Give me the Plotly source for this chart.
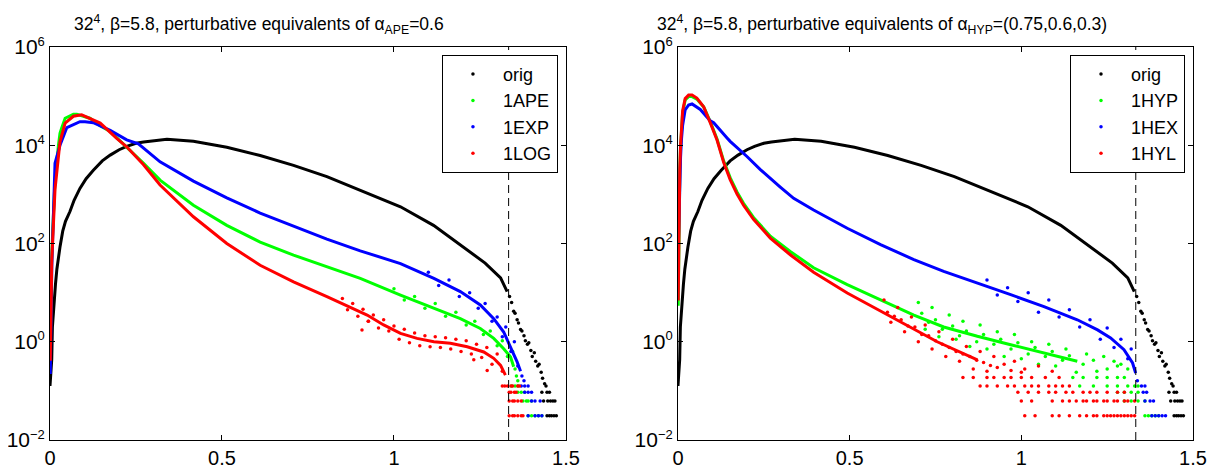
import plotly.graph_objects as go

# ---------------- data ----------------
CUTOFF = 4 / 3  # dashed vertical line position

# count levels of the lowest histogram rows (1,2,3,4,6 entries)
L1, L2, L3, L4, L6 = 0.03125, 0.0625, 0.09375, 0.125, 0.1875

# ---- original (same in both panels)
orig_x = [0.0, 0.003, 0.005, 0.007, 0.010, 0.0125, 0.016, 0.020, 0.024, 0.029, 0.037, 0.045,
          0.058, 0.070, 0.087, 0.105, 0.126, 0.152, 0.175, 0.201, 0.223, 0.25, 0.272, 0.34,
          0.417, 0.514, 0.611, 0.708, 0.805, 0.902, 1.019, 1.115, 1.213, 1.265, 1.31, 1.329]
orig_y = [0.126, 0.29, 0.43, 2.0, 4.4, 6.5, 15, 30, 50, 85, 178, 282,
          447, 760, 1320, 2090, 3100, 4800, 6300, 8100, 9500, 11000, 11700, 13200,
          12000, 9100, 6200, 3900, 2300, 1230, 560, 234, 74, 40, 20, 10.5]
orig_tail_x = [1.336, 1.342, 1.348, 1.352, 1.358, 1.362, 1.368, 1.372, 1.378, 1.382, 1.388,
               1.392, 1.398, 1.402, 1.408, 1.412, 1.418, 1.422, 1.428, 1.432, 1.438]
orig_tail_y = [8.3, 6.3, 4.2, 3.8, 2.8, 2.4, 1.78, 1.66, 1.32, 1.05, 0.89,
               0.95, 0.66, 0.50, 0.60, 0.40, 0.32, 0.35, 0.24, 0.18, 0.14]
orig_rows = {L4: [1.442], L3: [1.43, 1.445, 1.452],
             L2: [1.435, 1.447, 1.455, 1.462, 1.468],
             L1: [1.445, 1.452, 1.458, 1.465, 1.472]}

# ---- left panel: 1APE (green)
ape_x = [0.00075, 0.00225, 0.00375, 0.008, 0.0146, 0.024, 0.029, 0.034, 0.044, 0.068, 0.078,
         0.116, 0.1455, 0.175, 0.223, 0.272, 0.32, 0.417, 0.514, 0.611, 0.708, 0.805, 0.902,
         1.019, 1.116, 1.193, 1.251, 1.29, 1.319, 1.339, 1.348]
ape_y = [0.65, 7.4, 31, 186, 1950, 9300, 17400, 22400, 35500, 42700, 42700,
         35500, 25100, 19000, 9300, 4300, 1950, 600, 234, 107, 58, 34, 19.5,
         8.9, 4.8, 2.95, 1.86, 1.17, 0.72, 0.49, 0.31]
ape_tail_x = [1.0, 1.03, 1.06, 1.09, 1.12, 1.15, 1.18, 1.21, 1.235, 1.26, 1.28, 1.30, 1.315,
              1.33, 1.345, 1.352, 1.356, 1.36]
ape_tail_y = [12, 7.1, 8.3, 4.8, 6.0, 3.3, 4.0, 2.2, 2.6, 1.4, 1.66, 0.83, 1.05,
              0.5, 0.63, 0.28, 0.2, 0.16]
ape_rows = {L4: [1.342, 1.352, 1.36], L3: [1.36, 1.37, 1.38],
            L2: [1.375, 1.385, 1.39, 1.40], L1: [1.39, 1.40, 1.41, 1.42, 1.43]}

# ---- left panel: 1EXP (blue)
exp_x = [0.00075, 0.00225, 0.00375, 0.00525, 0.0146, 0.029, 0.049, 0.087, 0.102, 0.126, 0.175,
         0.223, 0.257, 0.32, 0.417, 0.514, 0.611, 0.708, 0.805, 0.902, 1.019, 1.116, 1.193,
         1.251, 1.29, 1.319, 1.339, 1.358, 1.368]
exp_y = [0.22, 3.3, 13.5, 35, 4300, 10000, 22900, 30200, 30200, 28800, 20000,
         12900, 10700, 4600, 1860, 850, 417, 224, 123, 71, 39, 19.5, 10.5,
         5.6, 2.95, 1.58, 0.79, 0.39, 0.25]
exp_tail_x = [1.10, 1.13, 1.16, 1.19, 1.22, 1.245, 1.265, 1.285, 1.30, 1.315, 1.325, 1.34,
              1.35, 1.36, 1.372, 1.378]
exp_tail_y = [26, 14, 18, 8.3, 10, 4.8, 6.0, 2.6, 3.2, 1.26, 2.0, 0.63,
              1.0, 0.32, 0.2, 0.16]
exp_rows = {L4: [1.37, 1.38, 1.39], L3: [1.38, 1.39, 1.40],
            L2: [1.40, 1.41, 1.425], L1: [1.39, 1.41, 1.42, 1.43]}

# ---- left panel: 1LOG (red)
log_x = [0.00075, 0.00225, 0.00375, 0.00525, 0.0146, 0.029, 0.044, 0.068, 0.092, 0.146, 0.194,
         0.223, 0.272, 0.32, 0.417, 0.514, 0.611, 0.708, 0.805, 0.873, 0.922, 0.97, 1.019,
         1.067, 1.116, 1.164, 1.213, 1.261, 1.29, 1.31, 1.324]
log_y = [0.41, 4.6, 18.6, 48, 1260, 11700, 28200, 38900, 41700, 28200, 13800,
         9300, 4000, 1550, 350, 100, 36, 16.6, 8.3, 5.1, 3.5, 2.2, 1.48,
         1.17, 1.0, 0.93, 0.79, 0.62, 0.46, 0.33, 0.21]
log_tail_x = [0.85, 0.865, 0.88, 0.895, 0.907, 0.91, 0.925, 0.926, 0.94, 0.955, 0.97, 0.985,
              1.0, 1.015, 1.03, 1.045, 1.06, 1.075, 1.09, 1.105, 1.12, 1.135, 1.15, 1.165,
              1.18, 1.195, 1.21, 1.225, 1.232, 1.24, 1.255, 1.27, 1.271, 1.285, 1.30, 1.315]
log_tail_y = [7.6, 4.5, 6.0, 3.3, 1.74, 4.6, 2.6, 2.6, 3.5, 1.9, 2.8, 1.66,
              2.1, 1.12, 1.8, 0.95, 1.5, 0.83, 1.32, 0.79, 1.26, 0.76, 1.2, 0.71,
              1.12, 0.63, 1.05, 0.56, 0.43, 0.89, 0.48, 0.76, 0.26, 0.35, 0.56, 0.25]
log_rows = {L4: [1.315, 1.322, 1.33, 1.34, 1.345, 1.36, 1.365], L3: [1.335, 1.34, 1.35, 1.355],
            L2: [1.335, 1.345, 1.35, 1.36, 1.37], L1: [1.335, 1.345, 1.35, 1.36, 1.37, 1.375]}

# ---- right panel: 1HYP (green)
hyp_x = [0.00075, 0.00225, 0.00375, 0.00525, 0.0075, 0.01, 0.0135, 0.021, 0.031, 0.041, 0.055,
         0.065, 0.075, 0.094, 0.114, 0.133, 0.152, 0.172, 0.191, 0.22, 0.269, 0.327, 0.395,
         0.493, 0.59, 0.687, 0.774, 0.872, 0.969, 1.066, 1.163]
hyp_y = [5.4, 91, 710, 2800, 8900, 22400, 45700, 83200, 97700, 97700, 87100,
         72400, 60300, 30200, 13200, 4800, 2190, 1120, 660, 340, 141, 69, 32,
         14.5, 7.2, 3.5, 2.0, 1.29, 0.87, 0.59, 0.40]
hyp_tail_x = [0.70, 0.71, 0.72, 0.73, 0.74, 0.75, 0.76, 0.77, 0.79, 0.80, 0.81, 0.82, 0.83,
              0.84, 0.85, 0.87, 0.88, 0.89, 0.90, 0.92, 0.93, 0.94, 0.95, 0.97, 0.98, 0.99,
              1.00, 1.02, 1.03, 1.04, 1.05, 1.07, 1.08, 1.09, 1.10, 1.12, 1.13, 1.14, 1.16,
              1.18, 1.19, 1.21, 1.22, 1.24, 1.25, 1.27, 1.28, 1.29, 1.31]
hyp_tail_y = [6.3, 3.8, 1.8, 2.5, 5.0, 2.8, 1.26, 1.8, 3.5, 2.1, 1.12, 1.32, 2.6,
              1.66, 0.8, 1.0, 2.2, 1.4, 0.71, 0.89, 1.6, 1.12, 0.5, 0.71, 1.4, 0.95,
              0.45, 0.56, 1.0, 0.76, 0.35, 0.5, 0.89, 0.63, 0.32, 0.42, 0.71, 0.52, 0.24,
              0.35, 0.56, 0.42, 0.25, 0.5, 0.28, 0.4, 0.32, 0.35, 0.28]
hyp_rows = {L6: [1.15, 1.18, 1.22, 1.25, 1.28, 1.30],
            L4: [1.17, 1.21, 1.25, 1.28, 1.31, 1.33, 1.34],
            L3: [1.28, 1.30, 1.32, 1.34], L2: [1.30, 1.32, 1.34, 1.36],
            L1: [1.36, 1.37, 1.38, 1.39, 1.40]}

# ---- right panel: 1HEX (blue)
hex_x = [0.00075, 0.00225, 0.00375, 0.00525, 0.0075, 0.01, 0.0135, 0.021, 0.031, 0.041, 0.065,
         0.094, 0.104, 0.143, 0.152, 0.201, 0.24, 0.298, 0.337, 0.395, 0.493, 0.59, 0.687,
         0.774, 0.872, 0.969, 1.066, 1.163, 1.222, 1.26, 1.299, 1.324, 1.333]
hex_y = [72, 224, 790, 2000, 5600, 12600, 25100, 52500, 66100, 69200, 53700,
         31600, 28800, 14100, 12000, 5900, 3200, 1410, 830, 480, 204, 95, 47,
         27, 15.8, 9.1, 5.2, 2.8, 1.74, 1.2, 0.69, 0.37, 0.23]
hex_tail_x = [0.90, 0.93, 0.96, 0.99, 1.02, 1.05, 1.08, 1.11, 1.14, 1.17, 1.20, 1.23, 1.25,
              1.27, 1.29, 1.31, 1.32, 1.338]
hex_tail_y = [18, 8.9, 12.6, 6.6, 10, 4.0, 7.1, 3.2, 4.5, 2.0, 2.8, 1.12, 1.9,
              0.76, 1.12, 0.45, 0.71, 0.16]
hex_rows = {L4: [1.35, 1.36], L3: [1.355, 1.365], L2: [1.36, 1.375, 1.385],
            L1: [1.38, 1.39, 1.40, 1.41, 1.42]}

# ---- right panel: 1HYL (red)
hyl_x = [0.00075, 0.00225, 0.00375, 0.00525, 0.0075, 0.01, 0.0135, 0.021, 0.031, 0.041, 0.055,
         0.065, 0.075, 0.094, 0.114, 0.133, 0.152, 0.172, 0.191, 0.22, 0.269, 0.327, 0.395,
         0.493, 0.59, 0.687, 0.755, 0.872]
hyl_y = [6.9, 100, 790, 3200, 10000, 25100, 50100, 89100, 105000, 105000, 91200,
         74100, 60300, 28800, 12600, 4500, 2000, 1020, 600, 310, 129, 59, 26,
         9.8, 4.2, 1.8, 1.0, 0.43]
hyl_tail_x = [0.60, 0.61, 0.62, 0.63, 0.64, 0.65, 0.66, 0.67, 0.68, 0.69, 0.70, 0.71, 0.72,
              0.73, 0.74, 0.75, 0.76, 0.77, 0.78, 0.79, 0.80, 0.81, 0.82, 0.83, 0.84, 0.85,
              0.86, 0.87, 0.88, 0.89, 0.90, 0.91, 0.92, 0.93, 0.95, 0.97, 0.98, 1.0, 1.01,
              1.05, 1.09]
hyl_tail_y = [7.1, 4.0, 2.5, 3.3, 5.0, 2.8, 1.6, 2.1, 3.2, 2.0, 1.0, 1.4, 2.2,
              1.32, 0.71, 1.05, 1.6, 0.89, 0.5, 0.76, 1.12, 0.63, 0.4, 0.56, 0.8, 0.5,
              0.28, 0.42, 0.63, 0.38, 0.25, 0.33, 0.5, 0.3, 0.35, 0.26, 0.4, 0.24, 0.28,
              0.32, 0.25]
hyl_rows = {L6: [0.83, 0.86, 0.90, 0.92, 0.95, 0.97, 1.00, 1.03, 1.07, 1.11],
            L4: [0.88, 0.90, 0.93, 0.96, 0.98, 1.01, 1.03, 1.05, 1.08, 1.10, 1.12, 1.14],
            L3: [0.99, 1.02, 1.05, 1.08, 1.10, 1.13, 1.15, 1.18, 1.20, 1.22, 1.25, 1.28, 1.30],
            L2: [1.00, 1.03, 1.09, 1.12, 1.14, 1.16, 1.18, 1.19, 1.21, 1.22, 1.24, 1.25, 1.27,
                 1.28, 1.30, 1.31, 1.33],
            L1: [1.01, 1.04, 1.09, 1.11, 1.14, 1.17, 1.19, 1.21, 1.22, 1.24, 1.25, 1.26, 1.27,
                 1.28, 1.29, 1.30, 1.31, 1.32, 1.33]}

x_tick_vals = [0, 0.5, 1, 1.5]
x_tick_text = ["0", "0.5", "1", "1.5"]
y_tick_vals = [1e-2, 1e0, 1e2, 1e4, 1e6]
y_tick_exps = ["\u22122", "0", "2", "4", "6"]
y_tick_text = ["10<sup><span style='font-size:13px'>%s</span></sup>" % e for e in y_tick_exps]

title_left = "32<sup>4</sup>, \u03b2=5.8, perturbative equivalents of \u03b1<sub>APE</sub>=0.6"
title_right = "32<sup>4</sup>, \u03b2=5.8, perturbative equivalents of \u03b1<sub>HYP</sub>=(0.75,0.6,0.3)"

# ---------------- figure ----------------
FONT = "Liberation Sans, Arial, Helvetica, sans-serif"
fig = go.Figure()


def add_series(panel, name, color, cx, cy, tx, ty, rows, legend):
    xa, ya = ("x", "y") if panel == 1 else ("x2", "y2")
    mx, my = list(tx), list(ty)
    for lvl, xl in rows.items():
        mx += xl
        my += [lvl] * len(xl)
    fig.add_trace(go.Scatter(x=cx, y=cy, mode="lines", xaxis=xa, yaxis=ya,
                             line=dict(color=color, width=3), showlegend=False,
                             hoverinfo="skip"))
    fig.add_trace(go.Scatter(x=mx, y=my, mode="markers", xaxis=xa, yaxis=ya, name=name,
                             marker=dict(color=color, size=3.5), legend=legend))


add_series(1, "orig", "#000000", orig_x, orig_y, orig_tail_x, orig_tail_y, orig_rows, "legend")
add_series(1, "1APE", "#00ff00", ape_x, ape_y, ape_tail_x, ape_tail_y, ape_rows, "legend")
add_series(1, "1EXP", "#0000ff", exp_x, exp_y, exp_tail_x, exp_tail_y, exp_rows, "legend")
add_series(1, "1LOG", "#ff0000", log_x, log_y, log_tail_x, log_tail_y, log_rows, "legend")

add_series(2, "orig", "#000000", orig_x, orig_y, orig_tail_x, orig_tail_y, orig_rows, "legend2")
add_series(2, "1HYP", "#00ff00", hyp_x, hyp_y, hyp_tail_x, hyp_tail_y, hyp_rows, "legend2")
add_series(2, "1HEX", "#0000ff", hex_x, hex_y, hex_tail_x, hex_tail_y, hex_rows, "legend2")
add_series(2, "1HYL", "#ff0000", hyl_x, hyl_y, hyl_tail_x, hyl_tail_y, hyl_rows, "legend2")

axis_common = dict(showline=True, linecolor="black", linewidth=1, mirror="ticks",
                   ticks="inside", ticklen=5, tickcolor="black", showgrid=False,
                   zeroline=False, automargin=False)
xfont = dict(size=20, color="black", family=FONT)
yfont = dict(size=21, color="black", family=FONT)

xd1 = [0, 0.4514]
xd2 = [0.5494, 1.0]
legend_common = dict(y=0.98, xanchor="right", yanchor="top", bgcolor="white",
                     bordercolor="black", borderwidth=1, font=dict(size=18, family=FONT),
                     itemwidth=50, tracegroupgap=0)
# the page body adds an 8px offset, so the figure is 8px smaller than the window
fig.update_layout(
    width=1209, height=466,
    margin=dict(l=42, r=24, t=39, b=34),
    paper_bgcolor="white", plot_bgcolor="white",
    font=dict(family=FONT, color="black"),
    xaxis=dict(domain=xd1, range=[0, 1.5], tickvals=x_tick_vals, ticktext=x_tick_text,
               anchor="y", tickfont=xfont, **axis_common),
    yaxis=dict(type="log", range=[-2, 6], tickvals=y_tick_vals, ticktext=y_tick_text,
               anchor="x", tickfont=yfont, **axis_common),
    xaxis2=dict(domain=xd2, range=[0, 1.5], tickvals=x_tick_vals, ticktext=x_tick_text,
                anchor="y2", tickfont=xfont, **axis_common),
    yaxis2=dict(type="log", range=[-2, 6], tickvals=y_tick_vals, ticktext=y_tick_text,
                anchor="x2", tickfont=yfont, **axis_common),
    legend=dict(x=0.4444, **legend_common),
    legend2=dict(x=0.993, **legend_common),
    shapes=[
        dict(type="line", xref="x", yref="y domain", x0=CUTOFF, x1=CUTOFF, y0=0, y1=1,
             line=dict(color="black", width=1, dash="8px,5px")),
        dict(type="line", xref="x2", yref="y2 domain", x0=CUTOFF, x1=CUTOFF, y0=0, y1=1,
             line=dict(color="black", width=1, dash="8px,5px")),
    ],
    annotations=[
        dict(text=title_left, xref="paper", yref="paper", x=0.1829, y=1.056,
             xanchor="center", yanchor="middle", showarrow=False,
             font=dict(size=17.5, family=FONT, color="black")),
        dict(text=title_right, xref="paper", yref="paper", x=0.7279, y=1.056,
             xanchor="center", yanchor="middle", showarrow=False,
             font=dict(size=17.5, family=FONT, color="black")),
    ],
)

fig.write_html("out.html")
